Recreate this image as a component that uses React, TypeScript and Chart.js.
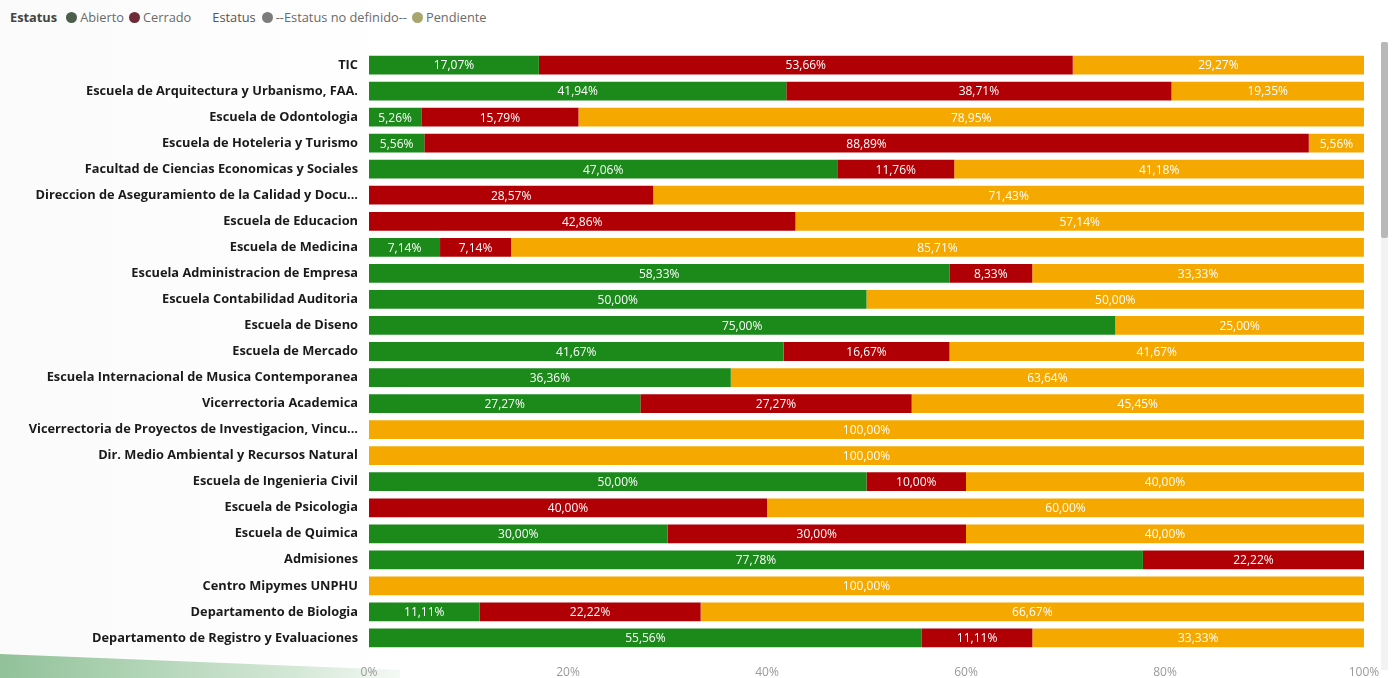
import React, { useEffect, useRef } from "react";
import { Chart, registerables } from "chart.js";

Chart.register(...registerables);

const categories = [
  "TIC",
  "Escuela de Arquitectura y Urbanismo, FAA.",
  "Escuela de Odontologia",
  "Escuela de Hoteleria y Turismo",
  "Facultad de Ciencias Economicas y Sociales",
  "Direccion de Aseguramiento de la Calidad y Docu...",
  "Escuela de Educacion",
  "Escuela de Medicina",
  "Escuela Administracion de Empresa",
  "Escuela Contabilidad Auditoria",
  "Escuela de Diseno",
  "Escuela de Mercado",
  "Escuela Internacional de Musica Contemporanea",
  "Vicerrectoria Academica",
  "Vicerrectoria de Proyectos de Investigacion, Vincu...",
  "Dir. Medio Ambiental y Recursos Natural",
  "Escuela de Ingenieria Civil",
  "Escuela de Psicologia",
  "Escuela de Quimica",
  "Admisiones",
  "Centro Mipymes UNPHU",
  "Departamento de Biologia",
  "Departamento de Registro y Evaluaciones",
];

const abierto = [17.07, 41.94, 5.26, 5.56, 47.06, 0, 0, 7.14, 58.33, 50, 75, 41.67, 36.36, 27.27, 0, 0, 50, 0, 30, 77.78, 0, 11.11, 55.56];
const cerrado = [53.66, 38.71, 15.79, 88.89, 11.76, 28.57, 42.86, 7.14, 8.33, 0, 0, 16.67, 0, 27.27, 0, 0, 10, 40, 30, 22.22, 0, 22.22, 11.11];
const noDefinido = [0, 0, 0, 0, 0, 0, 0, 0, 0, 0, 0, 0, 0, 0, 0, 0, 0, 0, 0, 0, 0, 0, 0];
const pendiente = [29.27, 19.35, 78.95, 5.56, 41.18, 71.43, 57.14, 85.71, 33.33, 50, 25, 41.67, 63.64, 45.45, 100, 100, 40, 60, 40, 0, 100, 66.67, 33.33];

const xTicks = [0, 20, 40, 60, 80, 100];

const GREEN = "#1b8a1b";
const RED = "#b00005";
const GRAY = "#8a8a8a";
const ORANGE = "#f5a800";

const labelPlugin = {
  id: "segLabels",
  afterDatasetsDraw(chart: any) {
    const ctx = chart.ctx;
    ctx.save();
    ctx.font = "12px 'Open Sans', sans-serif";
    ctx.fillStyle = "#ffffff";
    ctx.textAlign = "center";
    ctx.textBaseline = "middle";
    chart.data.datasets.forEach((ds: any, di: number) => {
      const meta = chart.getDatasetMeta(di);
      meta.data.forEach((bar: any, i: number) => {
        const v = ds.data[i];
        if (!v) return;
        const cx = (bar.x + bar.base) / 2;
        ctx.fillText(v.toFixed(2).replace(".", ",") + "%", cx, bar.y + 1);
      });
    });
    ctx.restore();
  },
};

function LegendDot({ color }: { color: string }) {
  return (
    <span
      style={{
        display: "inline-block",
        width: 11,
        height: 11,
        borderRadius: 6,
        background: color,
        marginRight: 3,
        verticalAlign: "-1px",
      }}
    />
  );
}

export default function App() {
  const ref = useRef<HTMLCanvasElement>(null);
  useEffect(() => {
    if (!ref.current) return;
    const chart = new Chart(ref.current, {
      type: "bar",
      data: {
        labels: categories,
        datasets: [
          { label: "Abierto", data: abierto, backgroundColor: GREEN, barPercentage: 0.72, categoryPercentage: 1 },
          { label: "Cerrado", data: cerrado, backgroundColor: RED, barPercentage: 0.72, categoryPercentage: 1 },
          { label: "--Estatus no definido--", data: noDefinido, backgroundColor: GRAY, barPercentage: 0.72, categoryPercentage: 1 },
          { label: "Pendiente", data: pendiente, backgroundColor: ORANGE, barPercentage: 0.72, categoryPercentage: 1 },
        ],
      },
      options: {
        indexAxis: "y",
        animation: false,
        responsive: false,
        maintainAspectRatio: false,
        layout: { padding: { top: 12, right: 16, left: 0, bottom: 0 } },
        plugins: { legend: { display: false }, tooltip: { enabled: false } },
        scales: {
          x: {
            stacked: true,
            min: 0,
            max: 100,
            afterBuildTicks: (axis: any) => {
              axis.ticks = xTicks.map((v) => ({ value: v }));
            },
            grid: { display: false, drawTicks: false },
            border: { display: false },
            ticks: {
              padding: 14,
              color: "#9a9a9a",
              font: { family: "'Open Sans', sans-serif", size: 12 },
              callback: (v: any) => v + "%",
            },
            afterFit: (axis: any) => {
              axis.height = 27;
              axis.paddingLeft = 0;
              axis.paddingRight = 0;
            },
          },
          y: {
            stacked: true,
            grid: { display: false, drawTicks: false },
            border: { display: false },
            ticks: {
              padding: 11,
              color: "#1a1a1a",
              autoSkip: false,
              font: { family: "'Open Sans', sans-serif", size: 12.8, weight: 700 },
            },
            afterFit: (axis: any) => {
              axis.width = 369;
              axis.paddingTop = 0;
              axis.paddingBottom = 0;
            },
          },
        },
      },
      plugins: [labelPlugin],
    } as any);
    return () => chart.destroy();
  }, []);

  const legText: React.CSSProperties = { color: "#6a6a6a", marginRight: 5 };
  return (
    <div
      style={{
        position: "fixed",
        left: 0,
        top: 0,
        width: 1393,
        height: 678,
        background: "#fff",
        overflow: "hidden",
        fontFamily: "'Open Sans', sans-serif",
      }}
    >
      <div
        style={{
          position: "absolute",
          left: 0,
          top: 0,
          width: 420,
          height: 678,
          background: "linear-gradient(90deg, rgba(244,244,244,0.4), rgba(255,255,255,0))",
        }}
      />
      <div
        style={{
          position: "absolute",
          left: 0,
          top: 648,
          width: 420,
          height: 30,
          clipPath: "polygon(0 6px, 400px 22px, 400px 30px, 0 30px)",
          background: "linear-gradient(90deg, rgba(110,175,120,0.75), rgba(170,210,175,0.5) 70%, rgba(230,240,230,0.2))",
        }}
      />
      <div
        style={{
          position: "absolute",
          left: 10,
          top: 9,
          fontSize: 12.8,
          whiteSpace: "nowrap",
          lineHeight: "16px",
        }}
      >
        <span style={{ color: "#444", fontWeight: 700, marginRight: 9 }}>Estatus</span>
        <LegendDot color="#4b5f4b" />
        <span style={legText}>Abierto</span>
        <LegendDot color="#6e2a36" />
        <span style={{ ...legText, marginRight: 21 }}>Cerrado</span>
        <span style={{ color: "#555", fontWeight: 400, marginRight: 6 }}>Estatus</span>
        <LegendDot color="#7c7c7c" />
        <span style={legText}>--Estatus no definido--</span>
        <LegendDot color="#a7a66c" />
        <span style={legText}>Pendiente</span>
      </div>
      <canvas
        ref={ref}
        width={1380}
        height={638}
        style={{ position: "absolute", left: 0, top: 40, width: 1380, height: 638 }}
      />
      <div style={{ position: "absolute", left: 1381, top: 42, width: 7, height: 628, background: "#f2f2f2" }} />
      <div style={{ position: "absolute", left: 1381, top: 42, width: 7, height: 196, background: "#b8b8b8", borderRadius: 2 }} />
    </div>
  );
}
